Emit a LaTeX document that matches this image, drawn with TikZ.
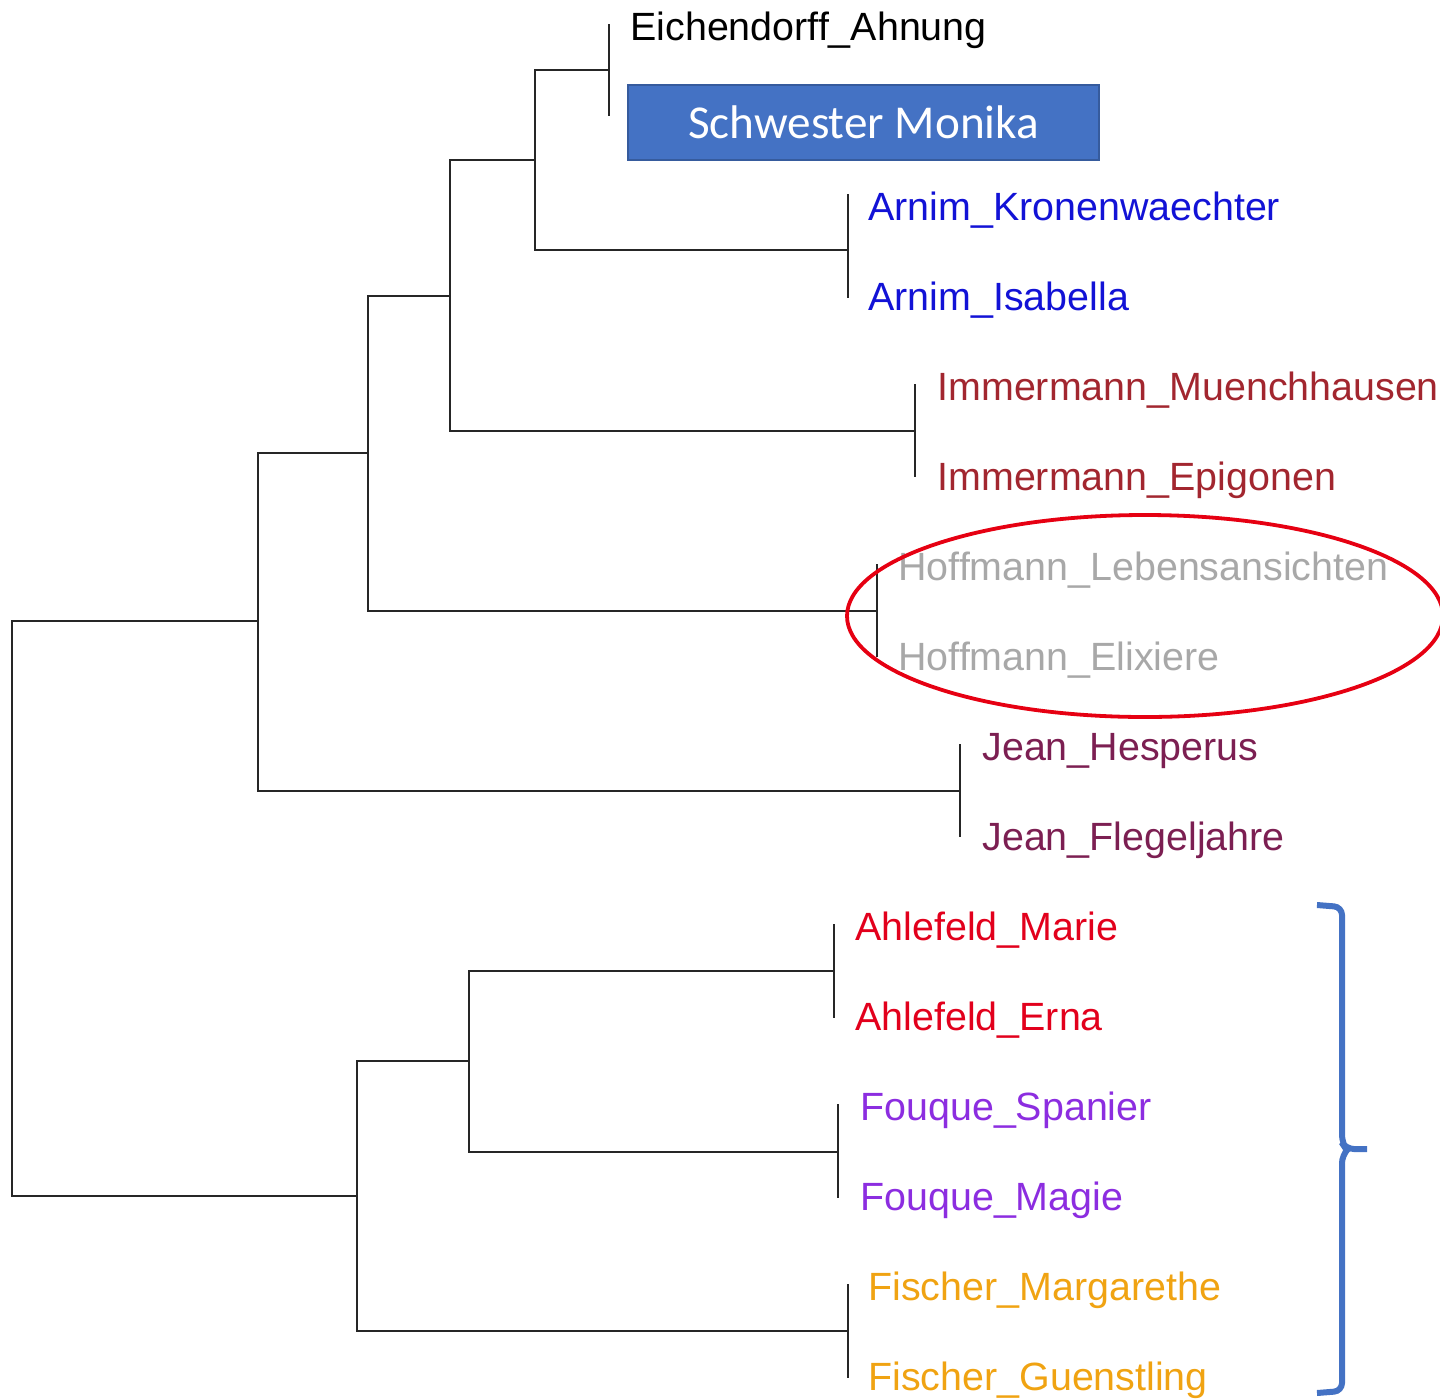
\documentclass[tikz,border=0pt]{standalone}
\usepackage{fontspec}
\setmainfont{Liberation Sans}
\newfontfamily\calibrifont{Carlito}
\usepackage{tikz}
\definecolor{arnimblue}{HTML}{1212D6}
\definecolor{immred}{HTML}{A2262F}
\definecolor{hoffgray}{HTML}{A8A8A8}
\definecolor{jeanplum}{HTML}{7C1F52}
\definecolor{ahlred}{HTML}{E2001C}
\definecolor{fouviolet}{HTML}{8C2DE0}
\definecolor{fisorange}{HTML}{F0A312}
\definecolor{officeblue}{HTML}{4472C4}
\definecolor{ringred}{HTML}{E60012}

\begin{document}
\begin{tikzpicture}[x=0.5pt, y=-0.5pt,
        leaf/.style={anchor=base west, inner sep=0pt,
        font=\fontsize{19.7pt}{23pt}\selectfont},
        branch/.style={line width=1.35pt, black!85, line cap=rect}]
        \useasboundingbox (0,0) rectangle (1440,1398);

        \node[leaf] (EA) at (630,40) {Eichendorff\_Ahnung};
        \node[fill=officeblue, draw=officeblue!80!black, line width=0.6pt,
        minimum width=235.5pt, minimum height=37.5pt, text=white,
        font=\calibrifont\fontsize{23.6pt}{27pt}\selectfont] (SM)
        at (863.5,122.5) {Schwester Monika};
        \node[leaf, arnimblue] (AK) at (868,220) {Arnim\_Kronenwaechter};
        \node[leaf, arnimblue] (AI) at (868,310) {Arnim\_Isabella};
        \node[leaf, immred] (IM) at (937,400) {Immermann\_Muenchhausen};
        \node[leaf, immred] (IE) at (937,490) {Immermann\_Epigonen};
        \node[leaf, hoffgray] (HL) at (898,580) {Hoffmann\_Lebensansichten};
        \node[leaf, hoffgray] (HE) at (898,670) {Hoffmann\_Elixiere};
        \node[leaf, jeanplum] (JH) at (982,760) {Jean\_Hesperus};
        \node[leaf, jeanplum] (JF) at (982,850) {Jean\_Flegeljahre};
        \node[leaf, ahlred] (AM) at (855,940) {Ahlefeld\_Marie};
        \node[leaf, ahlred] (AE) at (855,1030) {Ahlefeld\_Erna};
        \node[leaf, fouviolet] (FS) at (860,1120) {Fouque\_Spanier};
        \node[leaf, fouviolet] (FM) at (860,1210) {Fouque\_Magie};
        \node[leaf, fisorange] (FiM) at (868,1300) {Fischer\_Margarethe};
        \node[leaf, fisorange] (FiG) at (868,1390) {Fischer\_Guenstling};

        \foreach \n/\x/\t/\m/\b in {C1/609/25/70/115, C2/848/195/250/297,
        C3/915/385/431/476, C4/877/565/611/656, C5/960/745/791/836,
        C6/834/925/971/1017, C7/838/1105/1152/1197, C8/848/1285/1331/1377}
        {
        \coordinate (\n-t) at (\x,\t);
        \coordinate (\n) at (\x,\m);
        \coordinate (\n-b) at (\x,\b);
        \draw[branch] (\n-t) -- (\n-b);
        }

        \coordinate (N1) at (535,160);
        \coordinate (N2) at (450,296);
        \coordinate (N3) at (368,453);
        \coordinate (N4) at (258,621);
        \coordinate (M1) at (469,1061);
        \coordinate (M2) at (357,1196);
        \coordinate (R) at (12,908);

        \draw[branch] (C1) -| (N1) |- (C2);
        \draw[branch] (N1) -| (N2) |- (C3);
        \draw[branch] (N2) -| (N3) |- (C4);
        \draw[branch] (N3) -| (N4) |- (C5);
        \draw[branch] (C6) -| (M1) |- (C7);
        \draw[branch] (M1) -| (M2) |- (C8);
        \draw[branch] (N4) -| (R) |- (M2);

        \coordinate (ring) at (1145,616);
        \draw[ringred, line width=1.9pt] (ring) ellipse [x radius=298,
        y radius=101];

        \draw[officeblue, line width=3pt, rounded corners=4pt]
        (1317,905) -- (1342,907) -- (1342,1143) -- (1346,1149)
        -- (1367,1149);
        \draw[officeblue, line width=3pt, rounded corners=4pt]
        (1348,1149) -- (1342,1155) -- (1342,1391) -- (1317,1393);
\end{tikzpicture}
\end{document}
